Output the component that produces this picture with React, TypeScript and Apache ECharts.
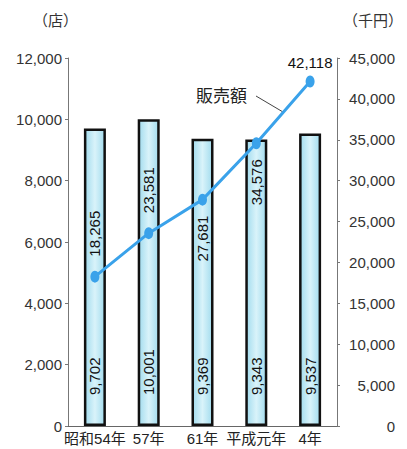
import React, { useEffect, useRef } from "react";
import * as echarts from "echarts";

const categories = ["昭和54年", "57年", "61年", "平成元年", "4年"];
const storeCounts = [9702, 10001, 9369, 9343, 9537];
const salesValues = [18265, 23581, 27681, 34576, 42118];
const salesLabelPos = ["top", "top", "bottom", "bottom", "top"];
const leftTicks = { max: 12000, interval: 2000 };
const rightTicks = { max: 45000, interval: 5000 };

const FONT = "'Liberation Sans', 'Noto Sans CJK JP', sans-serif";

export default function App() {
  const ref = useRef<HTMLDivElement>(null);
  useEffect(() => {
    if (!ref.current) return;
    document.body.style.margin = "0";
    const chart = echarts.init(ref.current, null, { renderer: "svg" });
    const fmt = (v: number) => v.toLocaleString("en-US");
    const lineData = salesValues.map((v, i) => {
      const pos = salesLabelPos[i];
      if (i === salesValues.length - 1) {
        return {
          value: v,
          label: { show: true, position: "top", rotate: 0, distance: 6, align: "center", verticalAlign: "bottom" },
        };
      }
      return {
        value: v,
        label: {
          show: true,
          position: pos,
          rotate: 90,
          distance: pos === "top" ? 14 : 10,
          align: pos === "top" ? "left" : "right",
          verticalAlign: "middle",
        },
      };
    });
    chart.setOption({
      animation: false,
      textStyle: { fontFamily: FONT },
      grid: { left: 68, right: 70, top: 58, bottom: 23 },
      xAxis: {
        type: "category",
        data: categories,
        axisLine: { lineStyle: { color: "#666", width: 1 } },
        axisTick: { show: false },
        axisLabel: { color: "#222", fontSize: 15, fontFamily: FONT, margin: 5, interval: 0 },
      },
      yAxis: [
        {
          type: "value",
          min: 0,
          max: leftTicks.max,
          interval: leftTicks.interval,
          splitLine: { show: false },
          axisLine: { show: true, lineStyle: { color: "#777" } },
          axisTick: { show: true, length: 3, lineStyle: { color: "#777" } },
          axisLabel: { color: "#333", fontSize: 15, margin: 6, formatter: (v: number) => fmt(v) },
        },
        {
          type: "value",
          min: 0,
          max: rightTicks.max,
          interval: rightTicks.interval,
          position: "right",
          splitLine: { show: false },
          axisLine: { show: true, lineStyle: { color: "#777" } },
          axisTick: { show: true, length: 3, lineStyle: { color: "#777" } },
          axisLabel: { color: "#333", fontSize: 15, margin: 58, align: "right", formatter: (v: number) => fmt(v) },
        },
      ],
      series: [
        {
          type: "bar",
          yAxisIndex: 0,
          data: storeCounts,
          barWidth: 22,
          itemStyle: {
            color: new echarts.graphic.LinearGradient(0, 0, 1, 0, [
              { offset: 0, color: "#a3dcee" },
              { offset: 0.5, color: "#d9f3fa" },
              { offset: 1, color: "#a3dcee" },
            ]),
            borderColor: "#111",
            borderWidth: 2.5,
          },
          label: {
            show: true,
            position: "insideBottom",
            rotate: 90,
            align: "left",
            verticalAlign: "middle",
            distance: 31,
            color: "#111",
            fontSize: 15,
            fontFamily: FONT,
            formatter: (p: any) => fmt(p.value),
          },
        },
        {
          type: "line",
          yAxisIndex: 1,
          data: lineData,
          symbol: "circle",
          symbolSize: [9, 12],
          lineStyle: { color: "#3aa2ea", width: 3 },
          itemStyle: { color: "#3aa2ea" },
          label: {
            color: "#111",
            fontSize: 15,
            fontFamily: FONT,
            formatter: (p: any) => fmt(p.value),
          },
          z: 5,
        },
      ],
      graphic: [
        { type: "text", left: 33, top: 12, style: { text: "（店）", fill: "#333", font: "15px 'Noto Sans CJK JP'" } },
        { type: "text", left: 343, top: 12, style: { text: "（千円）", fill: "#333", font: "15px 'Noto Sans CJK JP'" } },
        { type: "text", left: 196, top: 86, style: { text: "販売額", fill: "#222", font: "17px 'Noto Sans CJK JP'" } },
        { type: "line", shape: { x1: 256, y1: 96, x2: 283, y2: 112 }, style: { stroke: "#444", lineWidth: 1 } },
      ],
    });
    return () => chart.dispose();
  }, []);
  return <div ref={ref} style={{ width: 407, height: 449, position: "absolute", left: 0, top: 0 }} />;
}
